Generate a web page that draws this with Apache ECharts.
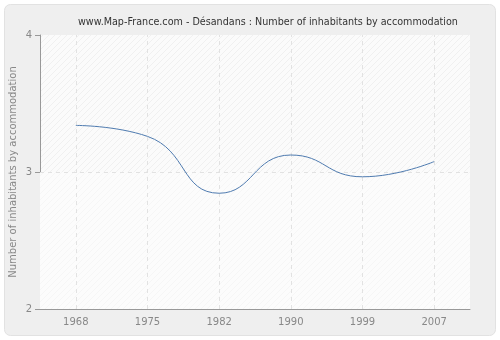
<!DOCTYPE html>
<html>
<head>
<meta charset="utf-8">
<script src="https://cdn.jsdelivr.net/npm/echarts@6/dist/echarts.min.js"></script>
<style>
  html, body { margin: 0; padding: 0; background: #ffffff; }
  #chart { width: 500px; height: 340px; }
</style>
</head>
<body>
<div id="chart"></div>
<script>
// Census years and average inhabitants per dwelling
const years = ['1968', '1975', '1982', '1990', '1999', '2007'];
const inhabitantsPerDwelling = [3.34, 3.26, 2.845, 3.124, 2.965, 3.076];
const yTicks = [2, 3, 4];

// Diagonal hatch used as the plot background
function hatchPattern(bg, line) {
  const c = document.createElement('canvas');
  c.width = 6; c.height = 6;
  const ctx = c.getContext('2d');
  ctx.fillStyle = bg;
  ctx.fillRect(0, 0, 6, 6);
  ctx.strokeStyle = line;
  ctx.lineWidth = 1;
  ctx.beginPath();
  ctx.moveTo(0, 6); ctx.lineTo(6, 0);
  ctx.moveTo(-1, 1); ctx.lineTo(1, -1);
  ctx.moveTo(5, 7); ctx.lineTo(7, 5);
  ctx.stroke();
  return { image: c, repeat: 'repeat' };
}

const chart = echarts.init(document.getElementById('chart'), null, { renderer: 'canvas' });
const font = 'DejaVu Sans, Verdana, sans-serif';
const gridDash = { color: '#e2e2e2', type: [4, 4], width: 1 };

chart.setOption({
  backgroundColor: '#ffffff',
  animation: false,
  graphic: [
    {
      type: 'rect', z: -10, silent: true,
      shape: { x: 4.5, y: 4.5, width: 491, height: 331, r: 6 },
      style: { fill: '#efefef', stroke: '#e2e2e2', lineWidth: 1 }
    }
  ],
  title: {
    text: 'www.Map-France.com - Désandans : Number of inhabitants by accommodation',
    left: 73, top: 12,
    textStyle: { fontFamily: font, fontSize: 9.6, fontWeight: 'normal', color: '#333333' }
  },
  grid: {
    left: 40, right: 30, top: 35, bottom: 31,
    containLabel: false,
    outerBoundsMode: 'none',
    show: true,
    backgroundColor: hatchPattern('#fbfbfb', '#f0f0f0'),
    borderWidth: 0
  },
  xAxis: {
    type: 'category',
    data: years,
    boundaryGap: true,
    axisLine: { lineStyle: { color: '#999999', width: 1 } },
    axisTick: { alignWithLabel: true, length: 5, lineStyle: { color: '#999999' } },
    axisLabel: { color: '#888888', fontFamily: font, fontSize: 10, margin: 8 },
    splitLine: { show: false }
  },
  yAxis: {
    type: 'value',
    min: yTicks[0], max: yTicks[yTicks.length - 1], interval: 1,
    name: 'Number of inhabitants by accommodation',
    nameLocation: 'middle', nameGap: 22,
    nameMoveOverlap: false,
    nameTextStyle: { color: '#888888', fontFamily: font, fontSize: 10 },
    axisLine: { show: true, lineStyle: { color: '#999999', width: 1 } },
    axisTick: { show: true, length: 5, lineStyle: { color: '#999999' } },
    axisLabel: { color: '#888888', fontFamily: font, fontSize: 10, margin: 8 },
    splitLine: { show: false }
  },
  series: [{
    type: 'line',
    data: inhabitantsPerDwelling,
    smooth: 0.5,
    symbol: 'none',
    lineStyle: { color: '#4f7bb0', width: 1 },
    z: 5,
    // dashed guides through each census year and the middle value tick
    markLine: {
      silent: true,
      symbol: 'none',
      label: { show: false },
      lineStyle: gridDash,
      data: years.map(y => ({ xAxis: y })).concat([{ yAxis: yTicks[1] }])
    },
    // the lower half of the plot is a touch lighter
    markArea: {
      silent: true,
      itemStyle: { color: hatchPattern('#fcfcfc', '#f6f6f6') },
      data: [[{ yAxis: yTicks[0] }, { yAxis: yTicks[1] }]]
    }
  }]
});
</script>
</body>
</html>
